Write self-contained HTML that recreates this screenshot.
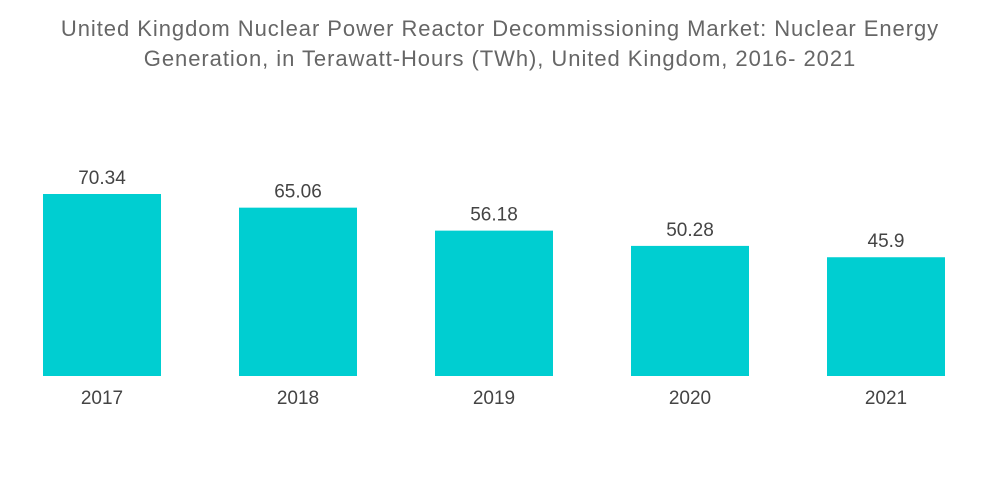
<!DOCTYPE html>
<html>
<head>
<meta charset="utf-8">
<style>
  html,body{margin:0;padding:0;background:#fff;}
  body{width:1000px;height:504px;overflow:hidden;font-family:"Liberation Sans",sans-serif;}
  .title{position:absolute;left:0;top:14px;width:1000px;text-align:center;color:#666;font-size:22px;line-height:30px;letter-spacing:0.95px;}
</style>
</head>
<body>
<div class="title">United Kingdom Nuclear Power Reactor Decommissioning Market: Nuclear Energy<br>Generation, in Terawatt-Hours (TWh), United Kingdom, 2016- 2021</div>
<svg id="chart" width="1000" height="504" style="position:absolute;left:0;top:0"></svg>
<script>
const categories = ["2017","2018","2019","2020","2021"];
const values = [70.34, 65.06, 56.18, 50.28, 45.9];
const valueLabels = ["70.34","65.06","56.18","50.28","45.9"];

const svg = document.getElementById('chart');
const NS = 'http://www.w3.org/2000/svg';
const baseY = 376, pxPerUnit = 182/70.34;
const x0 = 43, step = 196, barW = 118;
function xPos(i){ return x0 + i*step; }
function yPos(v){ return baseY - v*pxPerUnit; }

categories.forEach((c,i)=>{
  const r = document.createElementNS(NS,'rect');
  r.setAttribute('x', xPos(i));
  r.setAttribute('y', yPos(values[i]));
  r.setAttribute('width', barW);
  r.setAttribute('height', baseY - yPos(values[i]));
  r.setAttribute('fill', '#00ced1');
  
  
  svg.appendChild(r);

  const t = document.createElementNS(NS,'text');
  t.setAttribute('x', xPos(i) + barW/2);
  t.setAttribute('y', yPos(values[i]) - 10);
  t.setAttribute('text-anchor', 'middle');
  t.setAttribute('font-size', '19');
  t.setAttribute('fill', '#444');
  t.setAttribute('font-family', 'Liberation Sans, sans-serif');
  t.textContent = valueLabels[i];
  
  
  svg.appendChild(t);

  const l = document.createElementNS(NS,'text');
  l.setAttribute('x', xPos(i) + barW/2);
  l.setAttribute('y', 404);
  l.setAttribute('text-anchor', 'middle');
  l.setAttribute('font-size', '19');
  l.setAttribute('fill', '#444');
  l.setAttribute('font-family', 'Liberation Sans, sans-serif');
  l.textContent = c;
  
  
  svg.appendChild(l);
});
</script>
</body>
</html>
